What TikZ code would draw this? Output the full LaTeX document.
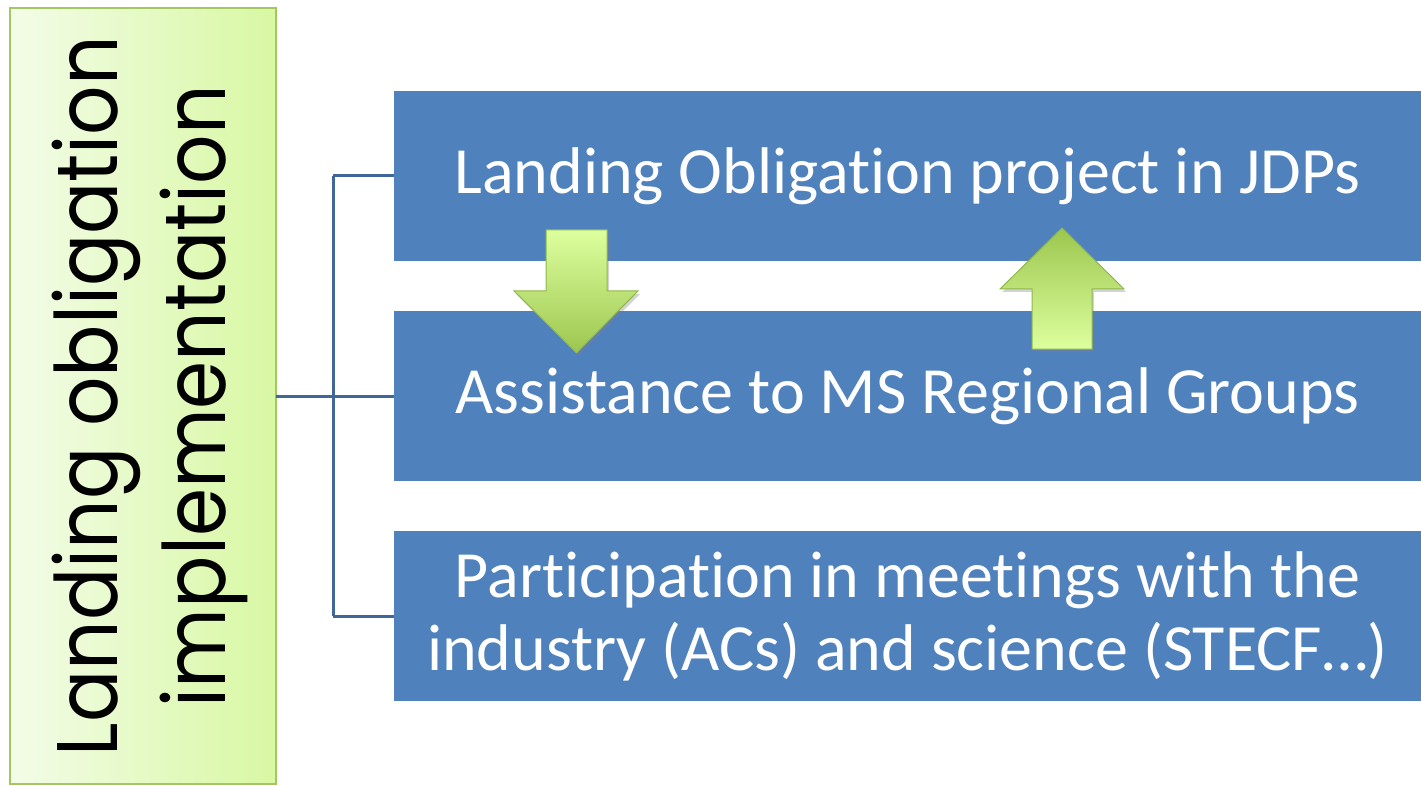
\documentclass[tikz,border=0pt]{standalone}
\usepackage{fontspec}
\setmainfont{Carlito}[Ligatures=NoCommon]
\newfontfamily\gothfont{Poppins}
\usetikzlibrary{positioning,shadows}

\definecolor{boxblue}{HTML}{4F81BD}
\definecolor{linkblue}{HTML}{41679A}
\definecolor{leafgreen}{HTML}{A3C862}
\definecolor{paleleaf}{HTML}{F3FCE8}
\definecolor{limeleaf}{HTML}{D8F8A3}
\definecolor{arrowlight}{HTML}{DDFF9E}
\definecolor{arrowdark}{HTML}{9CC64F}
\definecolor{arrowedge}{HTML}{8FB84C}

\begin{document}
\begin{tikzpicture}[x=1pt,y=-1pt,
    every node/.style={inner sep=0pt, outer sep=0pt},
    itembox/.style={fill=boxblue, minimum width=1027pt, minimum height=170pt,
                    text=white, align=center, font=\fontsize{66}{73}\selectfont},
    sidebox/.style={draw=leafgreen, line width=1.5pt,
                    left color=paleleaf, right color=limeleaf,
                    minimum width=266pt, minimum height=776pt},
    sidetext/.style={rotate=90, align=center,
                     font=\gothfont\fontsize{86}{108}\selectfont},
    link/.style={draw=linkblue, line width=3pt},
    bigarrow/.style={draw=arrowedge, line width=1pt, line join=miter,
                     drop shadow={opacity=0.35, shadow xshift=2pt, shadow yshift=-3pt}}]
  \useasboundingbox (0,0) rectangle (1421,786);
  \clip (0,0) rectangle (1421,786);
  % left heading
  \node[sidebox] (head) at (143,396) {};
  \node[sidetext] (headtext) at (150,396)
       {\scalebox{0.9}[1]{Landing obligation}\\\scalebox{0.9}[1]{implementation}};
  % the three tasks
  \node[itembox] (jdp)  at (907.5,176) {Landing Obligation project in JDPs};
  \node[itembox] (rg)   at (907.5,396) {Assistance to MS Regional Groups};
  \node[itembox] (meet) at (907.5,616)
       {Participation in meetings with the\\industry (ACs) and science (STECF\ldots)};
  % bracket
  \coordinate (hub) at (333,396);
  \draw[link] (head.east) -- (hub);
  \draw[link] (hub |- jdp.west) -- (hub |- meet.west);
  \draw[link] (hub |- jdp.west) -- (jdp.west);
  \draw[link] (hub) -- (rg.west);
  \draw[link] (hub |- meet.west) -- (meet.west);
  % down and up arrows
  \draw[bigarrow, top color=arrowlight, bottom color=arrowdark]
    (546,230) -- (607,230) -- (607,291) -- (638,291) -- (576.5,353)
    -- (514,291) -- (546,291) -- cycle;
  \draw[bigarrow, top color=arrowdark, bottom color=arrowlight]
    (1032,349) -- (1092,349) -- (1092,289) -- (1124,289) -- (1062,228)
    -- (1000,289) -- (1032,289) -- cycle;
\end{tikzpicture}
\end{document}
